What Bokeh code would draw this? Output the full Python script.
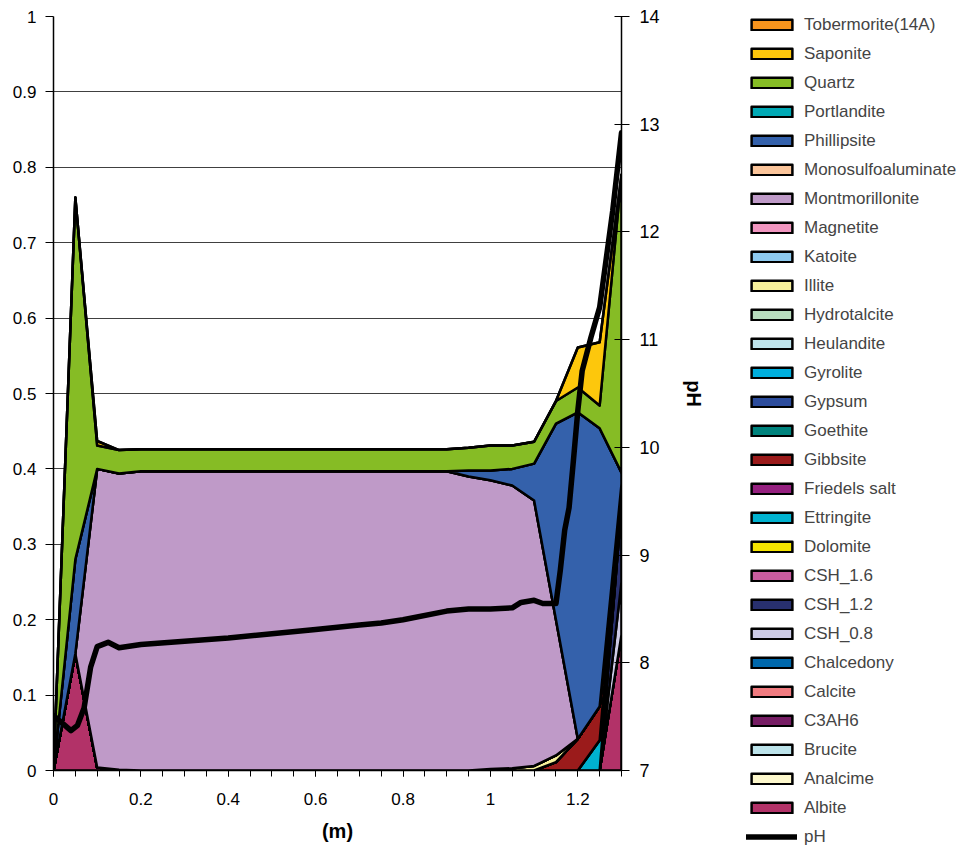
from bokeh.plotting import figure
from bokeh.layouts import row, column
from bokeh.models import Range1d, LinearAxis, FixedTicker, Legend, LegendItem
from bokeh.embed import file_html
from bokeh.resources import INLINE

# Distance along the profile (m)
x_m = [0.0, 0.05, 0.1, 0.15, 0.2, 0.25, 0.3, 0.35, 0.4, 0.45, 0.5, 0.55, 0.6, 0.65,
       0.7, 0.75, 0.8, 0.85, 0.9, 0.95, 1.0, 1.05, 1.1, 1.15, 1.2, 1.25, 1.3]

# Mineral volume fractions at each position (stacked, bottom to top)
albite = [0.0, 0.155, 0.004, 0.001, 0, 0, 0, 0, 0, 0, 0, 0, 0, 0,
          0, 0, 0, 0, 0, 0, 0, 0, 0, 0, 0, 0, 0.18]
csh_08 = [0, 0, 0, 0, 0, 0, 0, 0, 0, 0, 0, 0, 0, 0,
          0, 0, 0, 0, 0, 0, 0, 0, 0, 0, 0, 0, 0.07]
csh_12 = [0, 0, 0, 0, 0, 0, 0, 0, 0, 0, 0, 0, 0, 0,
          0, 0, 0, 0, 0, 0, 0, 0, 0, 0, 0, 0, 0.10]
ettringite = [0, 0, 0, 0, 0, 0, 0, 0, 0, 0, 0, 0, 0, 0,
              0, 0, 0, 0, 0, 0, 0, 0, 0, 0, 0, 0.04, 0.03]
gibbsite = [0, 0, 0, 0, 0, 0, 0, 0, 0, 0, 0, 0, 0, 0,
            0, 0, 0, 0, 0, 0, 0, 0, 0, 0.011, 0.042, 0.045, 0]
illite = [0, 0, 0, 0, 0, 0, 0, 0, 0, 0, 0, 0, 0, 0,
          0, 0, 0, 0, 0, 0, 0.002, 0.003, 0.006, 0.009, 0, 0, 0]
montmorillonite = [0, 0, 0.396, 0.393, 0.397, 0.397, 0.397, 0.397, 0.397, 0.397, 0.397, 0.397, 0.397, 0.397,
                   0.397, 0.397, 0.397, 0.397, 0.397, 0.39, 0.383, 0.375, 0.352, 0.18, 0, 0, 0]
phillipsite = [0, 0.125, 0, 0, 0, 0, 0, 0, 0, 0, 0, 0, 0, 0,
               0, 0, 0, 0, 0, 0.008, 0.013, 0.022, 0.049, 0.26, 0.433, 0.369, 0.015]
quartz = [0, 0.48, 0.031, 0.031, 0.029, 0.029, 0.029, 0.029, 0.029, 0.029, 0.029, 0.029, 0.029, 0.029,
          0.029, 0.029, 0.029, 0.029, 0.029, 0.03, 0.033, 0.031, 0.029, 0.03, 0.033, 0.03, 0.395]
saponite = [0, 0, 0.006, 0, 0, 0, 0, 0, 0, 0, 0, 0, 0, 0,
            0, 0, 0, 0, 0, 0, 0, 0, 0, 0, 0.053, 0.084, 0]
absent = [0] * len(x_m)

# pH profile
ph_x = [0, 0.04, 0.055, 0.07, 0.085, 0.1, 0.125, 0.15, 0.2, 0.3, 0.4, 0.5, 0.6, 0.7, 0.75,
        0.8, 0.9, 0.95, 1.0, 1.05, 1.07, 1.1, 1.12, 1.15, 1.16, 1.17, 1.18, 1.19, 1.2,
        1.21, 1.23, 1.25, 1.28, 1.3]
ph_val = [7.51, 7.37, 7.42, 7.58, 7.96, 8.15, 8.19, 8.14, 8.17, 8.2, 8.23, 8.27, 8.31, 8.35, 8.37,
          8.40, 8.48, 8.50, 8.50, 8.51, 8.56, 8.58, 8.55, 8.55, 8.86, 9.23, 9.44, 9.88, 10.34,
          10.71, 11.02, 11.3, 12.2, 12.92]

# (name, colour, fractions) in stacking order
minerals = [
    ("Albite", "#B23268", albite),
    ("Analcime", "#FDF8CC", absent),
    ("Brucite", "#BCE3EA", absent),
    ("C3AH6", "#761D64", absent),
    ("Calcite", "#F07B80", absent),
    ("Chalcedony", "#0068AC", absent),
    ("CSH_0.8", "#CDCBE6", csh_08),
    ("CSH_1.2", "#28306E", csh_12),
    ("CSH_1.6", "#C95C9F", absent),
    ("Dolomite", "#F5E400", absent),
    ("Ettringite", "#00B2D0", ettringite),
    ("Friedels salt", "#95207F", absent),
    ("Gibbsite", "#9B1B1B", gibbsite),
    ("Goethite", "#00837D", absent),
    ("Gypsum", "#2C4C9C", absent),
    ("Gyrolite", "#00AEDD", absent),
    ("Heulandite", "#BDE3EB", absent),
    ("Hydrotalcite", "#B9DDBE", absent),
    ("Illite", "#F7F09A", illite),
    ("Katoite", "#8ECAEF", absent),
    ("Magnetite", "#F196C0", absent),
    ("Montmorillonite", "#BF9AC8", montmorillonite),
    ("Monosulfoaluminate", "#FBC59B", absent),
    ("Phillipsite", "#3461AB", phillipsite),
    ("Portlandite", "#00A9B5", absent),
    ("Quartz", "#86BC25", quartz),
    ("Saponite", "#FDC70C", saponite),
    ("Tobermorite(14A)", "#F7941D", absent),
]

FONT = "Liberation Sans"
AREA_STYLE = dict(line_color="black", line_width=2.5, line_join="round")
PH_STYLE = dict(line_color="black", line_width=5.5, line_join="round", line_cap="round")

# stacked outlines for every mineral
layers = []
base = [0.0] * len(x_m)
for name, colour, frac in minerals:
    top = [b + v for b, v in zip(base, frac)]
    layers.append((name, colour, x_m + x_m[::-1], top + base[::-1]))
    base = top

p = figure(width=746, height=854, x_range=Range1d(0, 1.3), y_range=Range1d(0, 1),
           output_backend="svg", toolbar_location=None,
           min_border_left=53, min_border_right=125, min_border_top=16, min_border_bottom=84)
p.outline_line_color = None
p.background_fill_color = "white"
p.extra_y_ranges = {"ph": Range1d(7, 14)}

for name, colour, xs, ys in layers:
    p.patch(xs, ys, fill_color=colour, **AREA_STYLE)
p.line(ph_x, ph_val, y_range_name="ph", **PH_STYLE)

# grid
p.xgrid.visible = False
p.ygrid.ticker = FixedTicker(ticks=[i / 10 for i in range(11)])
p.ygrid.grid_line_color = "#404040"
p.ygrid.grid_line_width = 1

# x axis
xa = p.xaxis[0]
xa.ticker = FixedTicker(ticks=[0, 0.2, 0.4, 0.6, 0.8, 1.0, 1.2],
                        minor_ticks=[i * 0.05 for i in range(27)])
xa.major_label_overrides = {0: "0", 0.2: "0.2", 0.4: "0.4", 0.6: "0.6", 0.8: "0.8", 1.0: "1", 1.2: "1.2"}
xa.axis_label = "(m)"
xa.axis_label_text_font_style = "bold"
xa.axis_label_text_font_size = "20px"
xa.axis_label_standoff = 12
xa.major_label_standoff = 16

# left axis
ya = p.yaxis[0]
ya.ticker = FixedTicker(ticks=[i / 10 for i in range(11)])
ya.major_label_overrides = {0: "0", 1: "1", **{i / 10: f"0.{i}" for i in range(1, 10)}}
ya.major_tick_out = 8
ya.major_label_standoff = 9

# right pH axis
pa = LinearAxis(y_range_name="ph", ticker=FixedTicker(ticks=list(range(7, 15))), axis_label="pH")
pa.major_tick_in = 7
pa.major_tick_out = 8
pa.major_label_standoff = 10
pa.major_label_text_font_size = "18px"
pa.axis_label_text_font_style = "bold"
pa.axis_label_text_font_size = "20px"
pa.axis_label_standoff = 20
p.add_layout(pa, "right")

for ax in (xa, ya, pa):
    ax.axis_line_color = "black"
    ax.axis_line_width = 1.5
    ax.major_tick_line_color = "black"
    ax.minor_tick_line_color = "black"
    ax.major_label_text_font = FONT
    ax.axis_label_text_font = FONT
    ax.major_label_text_color = "black"
    ax.axis_label_text_color = "black"
xa.major_tick_in = 0
xa.major_tick_out = 6
xa.minor_tick_in = 0
xa.minor_tick_out = 6
xa.major_label_text_font_size = "17px"
ya.major_tick_in = 0
ya.minor_tick_line_color = None
ya.major_label_text_font_size = "17px"
pa.minor_tick_line_color = None

# key panel: same layers, ranges set away from the data so only the legend shows
lg = figure(width=216, height=854, x_range=Range1d(10, 11), y_range=Range1d(10, 11),
            output_backend="svg", toolbar_location=None, min_border=0,
            x_axis_type=None, y_axis_type=None)
lg.outline_line_color = None
lg.grid.visible = False
lg.extra_y_ranges = {"ph": Range1d(100, 101)}

key_renderers = {}
for name, colour, xs, ys in layers:
    key_renderers[name] = lg.patch(xs, ys, fill_color=colour, **AREA_STYLE)
ph_key = lg.line(ph_x, ph_val, y_range_name="ph", **PH_STYLE)

items = [LegendItem(label=name, renderers=[key_renderers[name]]) for name, _, _ in reversed(minerals)]
items.append(LegendItem(label="pH", renderers=[ph_key]))
legend = Legend(items=items, location=(0, 7), glyph_width=51, glyph_height=13,
                label_height=21, spacing=8, padding=0, margin=0, label_standoff=7,
                border_line_color=None, background_fill_alpha=0,
                label_text_font=FONT, label_text_font_size="17px")
lg.add_layout(legend)

layout = row(p, column(lg, spacing=0), spacing=0)
open("out.html", "w").write(file_html(layout, INLINE))
